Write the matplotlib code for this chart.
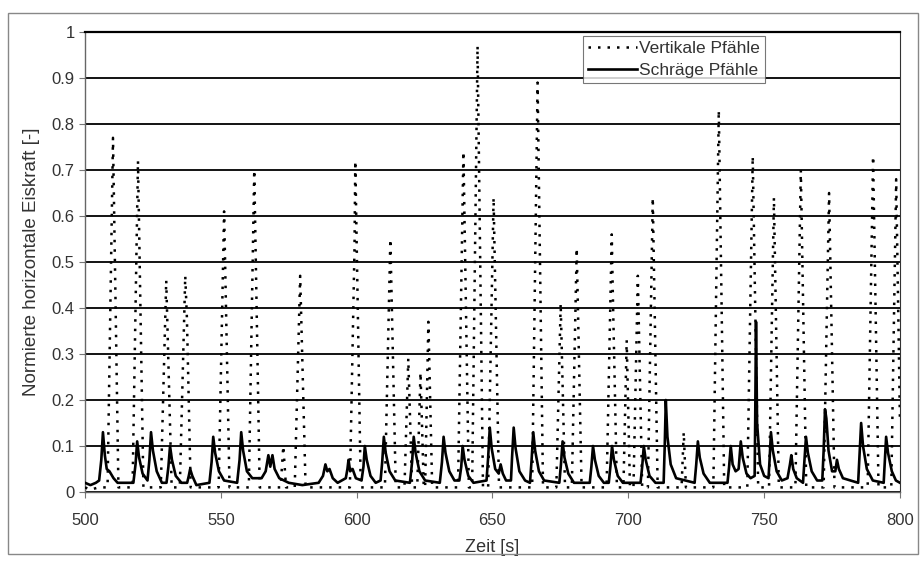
import matplotlib.pyplot as plt
from matplotlib.patches import Rectangle

plt.rcParams['font.family'] = ['Liberation Sans', 'DejaVu Sans']

# Vertikale Pfaehle (dotted) - vertices, one spike per row
vert_t = [500, 502, 505,
          508.3, 510.3, 512.3,
          517.5, 519.5, 521.5,
          527.9, 529.9, 531.9,
          534.9, 536.9, 537.5, 538.9,
          544, 549.2, 551.2, 553.2,
          560.3, 562.3, 564.3,
          572, 573, 574,
          577.2, 579.2, 581.2,
          588, 597.5, 599.2, 599.5, 601.5,
          606, 610.4, 612.4, 614.4,
          617.6, 619, 620.4,
          622.3, 623.5, 624.7,
          625.2, 626.4, 627.8,
          632, 637.3, 639.3, 641.3,
          642.5, 644.5, 646.5,
          648.4, 650.4, 652.4,
          658, 664.6, 666.6, 668.6,
          673.5, 675.1, 676.7,
          679.2, 681, 682.8,
          688, 692, 693.9, 694.3, 695.8,
          698.2, 699.4, 700.6,
          701.9, 703.5, 705.1,
          707.2, 709, 710.8,
          715, 719.6, 720.4, 721.2,
          726, 731.3, 733.3, 735.3,
          740, 743.8, 745.8, 747.8,
          751.8, 753.6, 755.4,
          758, 761.5, 763.5, 765.5,
          769, 771.9, 773.9, 775.9,
          782, 788.1, 790.1, 792.1,
          796.8, 798.6, 800]
vert_v = [0.01, 0.005, 0.01,
          0.01, 0.77, 0.01,
          0.01, 0.72, 0.01,
          0.01, 0.46, 0.01,
          0.01, 0.47, 0.38, 0.01,
          0.01, 0.01, 0.61, 0.01,
          0.01, 0.70, 0.01,
          0.01, 0.10, 0.01,
          0.01, 0.47, 0.01,
          0.01, 0.01, 0.53, 0.72, 0.01,
          0.01, 0.01, 0.55, 0.01,
          0.01, 0.29, 0.01,
          0.01, 0.26, 0.01,
          0.01, 0.37, 0.01,
          0.01, 0.01, 0.74, 0.01,
          0.01, 0.97, 0.01,
          0.01, 0.64, 0.01,
          0.01, 0.01, 0.89, 0.01,
          0.01, 0.41, 0.01,
          0.01, 0.53, 0.01,
          0.01, 0.01, 0.56, 0.43, 0.01,
          0.01, 0.33, 0.01,
          0.01, 0.47, 0.01,
          0.01, 0.64, 0.01,
          0.01, 0.01, 0.13, 0.01,
          0.01, 0.01, 0.83, 0.01,
          0.01, 0.01, 0.73, 0.01,
          0.01, 0.64, 0.01,
          0.01, 0.01, 0.70, 0.01,
          0.01, 0.01, 0.65, 0.01,
          0.01, 0.01, 0.73, 0.01,
          0.01, 0.68, 0.15]

# Schraege Pfaehle (solid), one peak per row
schr_t = [500, 502, 504, 505.2, 506, 506.6, 507.3, 508, 509, 510.5, 512,
          517.8, 518.6, 519.2, 519.9, 521.2, 523,
          523.7, 524.3, 525, 526.4, 528.3, 530,
          530.7, 531.3, 532, 533.4, 535.5, 537.6,
          538.2, 538.7, 539.5, 541, 545.8,
          546.6, 547.2, 547.9, 549.3, 551.2, 556,
          556.9, 557.5, 558.2, 559.6, 561.6, 565, 566.5,
          567.5, 568.2, 569, 569.8, 571.5, 575, 580, 586, 587.6,
          588.5, 589.2, 590, 591.2, 593, 596,
          596.6, 597, 597.6, 598.5, 599.7, 601.8,
          602.5, 603, 603.7, 605.1, 607, 608.8,
          609.4, 610, 610.7, 612.1, 614.2, 619.6,
          620.4, 621, 621.7, 623.1, 625.2, 630.6,
          631.4, 632, 632.7, 634.1, 636, 637.8,
          638.5, 639, 639.7, 641.1, 643, 647.8,
          648.4, 649, 649.7, 651, 652.3, 653, 653.8, 655, 656.8,
          657.2, 657.8, 658.5, 659.9, 662, 663.8,
          664.4, 665, 665.7, 667.1, 669, 674.6,
          675.2, 675.8, 676.5, 677.9, 680, 685.8,
          686.4, 687, 687.7, 689.1, 691, 692.8,
          693.4, 694, 694.7, 696.1, 698, 704.5,
          705.1, 705.7, 706.4, 707.8, 710, 713,
          713.4, 713.8, 714.4, 715.6, 717.6, 724.4,
          725, 725.6, 726.3, 727.7, 730, 736.5,
          737.1, 737.7, 738.4, 739.5, 740.6,
          741.4, 742.1, 743.5, 745, 746.5,
          746.7, 747, 747.4, 748.5, 750, 751.6,
          752, 752.5, 753.2, 754.6, 756.5, 758.6,
          759.5, 760, 760.7, 762, 764.3,
          764.8, 765.4, 766.1, 767.5, 769.5, 771.4,
          771.9, 772.4, 772.9, 773.7, 775, 776.2,
          776.8, 777.5, 779, 784.6,
          785.1, 785.7, 786.4, 787.8, 790, 794,
          794.4, 794.9, 795.6, 797, 798.5, 800]
schr_v = [0.02, 0.015, 0.02, 0.025, 0.07, 0.13, 0.08, 0.05, 0.045, 0.03, 0.02,
          0.02, 0.06, 0.11, 0.075, 0.04, 0.025,
          0.07, 0.13, 0.09, 0.045, 0.02, 0.02,
          0.055, 0.10, 0.07, 0.035, 0.02, 0.02,
          0.035, 0.05, 0.035, 0.015, 0.02,
          0.065, 0.12, 0.085, 0.045, 0.025, 0.02,
          0.07, 0.13, 0.09, 0.045, 0.03, 0.03, 0.045,
          0.08, 0.055, 0.08, 0.05, 0.03, 0.02, 0.015, 0.02, 0.035,
          0.06, 0.045, 0.05, 0.03, 0.02, 0.03,
          0.05, 0.07, 0.045, 0.05, 0.03, 0.025,
          0.055, 0.10, 0.07, 0.035, 0.02, 0.025,
          0.065, 0.12, 0.085, 0.045, 0.025, 0.02,
          0.065, 0.12, 0.085, 0.045, 0.025, 0.02,
          0.065, 0.12, 0.085, 0.045, 0.025, 0.025,
          0.055, 0.10, 0.07, 0.035, 0.02, 0.025,
          0.075, 0.14, 0.095, 0.05, 0.04, 0.06, 0.04, 0.025, 0.025,
          0.075, 0.14, 0.095, 0.045, 0.025, 0.02,
          0.07, 0.13, 0.09, 0.045, 0.025, 0.02,
          0.06, 0.11, 0.075, 0.04, 0.02, 0.02,
          0.055, 0.10, 0.07, 0.035, 0.02, 0.02,
          0.055, 0.10, 0.07, 0.035, 0.02, 0.02,
          0.055, 0.10, 0.07, 0.035, 0.02, 0.02,
          0.10, 0.20, 0.12, 0.06, 0.03, 0.02,
          0.06, 0.11, 0.075, 0.04, 0.02, 0.02,
          0.055, 0.10, 0.06, 0.045, 0.05,
          0.11, 0.075, 0.04, 0.03, 0.035,
          0.15, 0.37, 0.15, 0.06, 0.035, 0.03,
          0.07, 0.13, 0.09, 0.045, 0.025, 0.03,
          0.06, 0.08, 0.05, 0.03, 0.02,
          0.065, 0.12, 0.085, 0.045, 0.025, 0.025,
          0.09, 0.18, 0.16, 0.09, 0.045, 0.045,
          0.07, 0.05, 0.03, 0.02,
          0.08, 0.15, 0.10, 0.05, 0.025, 0.02,
          0.065, 0.12, 0.085, 0.045, 0.025, 0.02]

txt = '#333333'

fig = plt.figure(figsize=(9.24, 5.61), dpi=100)
fig.patches.append(Rectangle((0.009, 0.012), 0.985, 0.965, transform=fig.transFigure,
                             fill=False, edgecolor='#888888', linewidth=1.0))
ax = fig.add_axes([0.092, 0.123, 0.882, 0.82])

ax.plot(vert_t, vert_v, color='black', linewidth=1.8, linestyle=(0, (1, 2.8)),
        label='Vertikale Pfähle', zorder=3)
ax.plot(schr_t, schr_v, color='black', linewidth=1.9, label='Schräge Pfähle', zorder=3)

ax.set_xlim(500, 800)
ax.set_ylim(0, 1)
ax.set_xticks([500, 550, 600, 650, 700, 750, 800])
ax.set_yticks([0, 0.1, 0.2, 0.3, 0.4, 0.5, 0.6, 0.7, 0.8, 0.9, 1])
ax.set_yticklabels(['0', '0.1', '0.2', '0.3', '0.4', '0.5', '0.6', '0.7', '0.8', '0.9', '1'])
ax.yaxis.grid(True, color='black', linewidth=1.3)
ax.set_axisbelow(True)
ax.tick_params(labelsize=12, labelcolor=txt, direction='out', length=4, color='#777777')
ax.tick_params(axis='x', pad=11)

for s in ['left', 'bottom']:
    ax.spines[s].set_color('#666666')
    ax.spines[s].set_linewidth(1.0)
ax.spines['right'].set_color('#333333')
ax.spines['top'].set_color('black')
ax.spines['top'].set_linewidth(1.6)

ax.set_xlabel('Zeit [s]', fontsize=13, color=txt, labelpad=8)
ax.set_ylabel('Normierte horizontale Eiskraft [-]', fontsize=13.5, color=txt, labelpad=8)

leg = ax.legend(loc='upper left', bbox_to_anchor=(0.611, 0.991), fontsize=12.5,
                frameon=True, fancybox=False, borderpad=0.3, labelspacing=0.35,
                handlelength=2.8, handletextpad=0.1, borderaxespad=0)
leg.get_frame().set_edgecolor('#555555')
leg.get_frame().set_linewidth(0.8)
for t in leg.get_texts():
    t.set_color(txt)
leg.set_zorder(5)

fig.savefig('out.png', dpi=100)
